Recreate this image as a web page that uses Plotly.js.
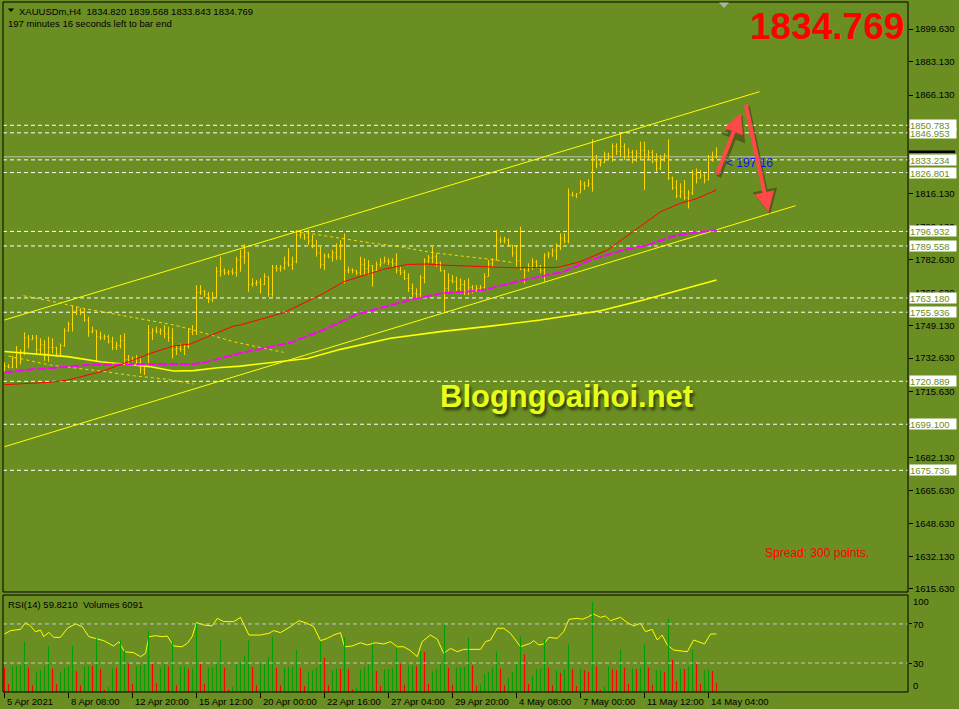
<!DOCTYPE html>
<html><head><meta charset="utf-8">
<script src="https://cdn.plot.ly/plotly-3.0.1.min.js"></script>
<style>html,body{margin:0;padding:0;background:#6B8E23;overflow:hidden}#chart{width:959px;height:709px}</style>
</head><body><div id="chart"></div>
<script>
// ---------- DATA (XAUUSDm, H4) ----------
const openP = [
1727.0,1728.5,1728.0,1732.5,1735.0,1736.0,1743.0,1742.0,1743.0,1737.0,
1739.5,1735.0,1738.0,1738.0,1735.0,1739.0,1746.5,1750.0,1756.5,1757.0,
1756.0,1752.0,1746.0,1746.5,1743.5,1743.0,1743.5,1741.0,1738.0,1739.0,
1741.5,1732.0,1731.5,1732.0,1730.5,1727.0,1728.5,1745.5,1746.5,1746.0,
1746.5,1745.0,1743.0,1737.0,1737.5,1737.0,1738.5,1746.0,1746.5,1766.0,
1766.5,1765.0,1762.5,1763.5,1776.5,1777.0,1776.0,1776.5,1776.0,1782.5,
1784.0,1786.0,1770.0,1770.5,1771.0,1770.0,1774.0,1765.0,1778.5,1778.0,
1778.5,1781.0,1780.0,1781.5,1795.0,1795.5,1794.0,1792.0,1790.0,1786.0,
1780.0,1784.5,1784.0,1786.0,1784.0,1790.0,1777.0,1777.5,1777.0,1776.0,
1780.0,1778.0,1779.5,1777.0,1780.0,1781.0,1782.0,1781.5,1780.5,1777.0,
1776.0,1773.0,1768.0,1765.5,1765.0,1773.5,1782.0,1783.5,1784.0,1781.0,
1777.0,1768.0,1772.0,1771.5,1768.0,1770.0,1767.0,1768.5,1767.0,1768.0,
1768.5,1774.0,1780.5,1782.5,1792.5,1792.0,1792.5,1790.0,1786.0,1782.0,
1777.5,1777.0,1779.0,1781.5,1779.5,1777.0,1785.0,1785.5,1787.0,1789.5,
1793.5,1792.0,1815.5,1815.0,1816.5,1821.0,1820.0,1821.0,1834.0,1831.0,
1832.0,1836.0,1835.0,1840.0,1837.5,1840.0,1835.0,1837.0,1833.0,1836.5,
1838.0,1836.0,1837.0,1832.5,1829.0,1834.0,1835.5,1824.0,1819.0,1815.0,
1817.0,1814.0,1816.5,1826.0,1824.0,1825.5,1823.0,1834.5,1834.820];
const highP = [
1730.5,1729.6,1733.7,1738.8,1737.1,1745.7,1744.4,1744.4,1744.4,1742.7,
1741.8,1743.5,1742.7,1738.4,1740.1,1747.8,1751.1,1759.2,1758.7,1757.9,
1757.9,1753.7,1748.6,1746.9,1746.1,1744.7,1744.4,1743.5,1741.0,1744.4,
1745.2,1734.2,1733.4,1734.2,1732.5,1729.1,1749.4,1747.8,1748.6,1747.8,
1749.4,1748.6,1747.8,1739.3,1740.1,1739.3,1747.8,1749.4,1769.7,1769.7,
1767.2,1766.2,1766.2,1779.0,1784.1,1778.2,1777.4,1778.2,1784.1,1787.5,
1790.5,1786.6,1773.1,1772.3,1773.1,1775.7,1774.0,1779.9,1779.9,1779.9,
1784.1,1788.4,1784.1,1797.6,1796.8,1795.9,1797.9,1795.1,1792.6,1789.2,
1785.8,1785.8,1787.5,1790.9,1792.6,1795.9,1779.0,1778.2,1777.4,1784.1,
1783.3,1782.4,1779.9,1781.6,1783.3,1784.1,1783.3,1783.3,1785.8,1779.0,
1777.4,1775.7,1770.6,1768.0,1774.8,1783.3,1784.9,1789.2,1785.8,1781.6,
1777.4,1775.7,1774.8,1774.0,1773.1,1772.3,1773.1,1769.7,1769.7,1769.7,
1775.7,1782.4,1783.3,1797.6,1794.2,1794.2,1793.4,1790.0,1790.0,1799.3,
1778.2,1780.8,1783.3,1782.4,1779.9,1785.8,1786.6,1788.4,1790.9,1795.9,
1795.9,1818.8,1817.1,1816.3,1823.0,1822.2,1823.4,1843.7,1835.7,1833.2,
1837.4,1836.9,1841.6,1841.6,1846.7,1841.6,1839.1,1838.2,1838.2,1842.5,
1842.5,1838.2,1838.2,1836.6,1835.7,1836.6,1843.7,1824.7,1823.0,1821.3,
1823.0,1817.9,1828.1,1828.9,1828.1,1826.4,1835.7,1837.4,1839.568];
const lowP = [
1725.8,1727.5,1727.5,1727.5,1729.5,1734.2,1737.6,1741.8,1735.1,1734.2,
1731.2,1730.8,1735.1,1733.4,1733.4,1738.4,1746.1,1746.1,1754.5,1754.5,
1751.1,1743.5,1745.2,1730.8,1741.8,1741.8,1740.1,1736.8,1736.8,1737.6,
1730.0,1729.1,1730.8,1729.1,1724.9,1724.1,1728.3,1741.8,1745.2,1744.4,
1742.7,1741.0,1732.5,1734.2,1735.9,1734.2,1737.6,1744.4,1744.4,1764.7,
1763.6,1760.6,1761.1,1763.2,1774.0,1774.8,1774.8,1774.8,1774.0,1776.5,
1780.5,1766.3,1768.9,1769.2,1765.5,1769.7,1763.8,1763.8,1776.5,1776.5,
1777.4,1779.0,1777.4,1780.8,1793.4,1792.6,1790.0,1788.4,1784.1,1778.2,
1777.4,1783.3,1781.6,1782.4,1782.4,1770.6,1775.7,1775.7,1774.8,1774.8,
1774.8,1774.8,1768.9,1776.5,1779.0,1780.8,1779.9,1779.0,1775.7,1774.8,
1772.3,1766.3,1763.8,1763.0,1763.0,1770.6,1780.8,1780.8,1779.0,1776.5,
1756.2,1766.3,1770.6,1766.3,1765.5,1764.7,1764.7,1765.5,1766.3,1766.3,
1767.5,1774.0,1779.0,1782.4,1790.9,1790.9,1789.2,1784.1,1779.0,1777.4,
1770.6,1776.5,1777.4,1778.2,1775.7,1771.4,1783.3,1784.1,1782.4,1787.5,
1790.9,1790.9,1814.6,1813.8,1816.3,1818.0,1819.6,1817.1,1829.0,1829.8,
1831.5,1833.2,1832.3,1835.7,1834.9,1833.2,1834.0,1831.5,1832.3,1833.2,
1818.0,1833.2,1831.5,1827.2,1828.1,1832.3,1823.0,1818.0,1813.8,1813.8,
1812.9,1808.6,1815.4,1821.3,1823.9,1821.3,1823.0,1832.3,1833.843];
const closeP = [
1728.5,1728.0,1732.5,1735.0,1736.0,1743.0,1742.0,1743.0,1737.0,1739.5,
1735.0,1738.0,1738.0,1735.0,1739.0,1746.5,1750.0,1756.5,1757.0,1756.0,
1752.0,1746.0,1746.5,1743.5,1743.0,1743.5,1741.0,1738.0,1739.0,1741.5,
1732.0,1731.5,1732.0,1730.5,1727.0,1728.5,1745.5,1746.5,1746.0,1746.5,
1745.0,1743.0,1737.0,1737.5,1737.0,1738.5,1746.0,1746.5,1766.0,1766.5,
1765.0,1762.5,1763.5,1776.5,1777.0,1776.0,1776.5,1776.0,1782.5,1784.0,
1786.0,1770.0,1770.5,1771.0,1770.0,1774.0,1765.0,1778.5,1778.0,1778.5,
1781.0,1780.0,1781.5,1795.0,1795.5,1794.0,1792.0,1790.0,1786.0,1780.0,
1784.5,1784.0,1786.0,1784.0,1790.0,1777.0,1777.5,1777.0,1776.0,1780.0,
1778.0,1779.5,1777.0,1780.0,1781.0,1782.0,1781.5,1780.5,1777.0,1776.0,
1773.0,1768.0,1765.5,1765.0,1773.5,1782.0,1783.5,1784.0,1781.0,1777.0,
1768.0,1772.0,1771.5,1768.0,1770.0,1767.0,1768.5,1767.0,1768.0,1768.5,
1774.0,1780.5,1782.5,1792.5,1792.0,1792.5,1790.0,1786.0,1782.0,1777.5,
1777.0,1779.0,1781.5,1779.5,1777.0,1785.0,1785.5,1787.0,1789.5,1793.5,
1792.0,1815.5,1815.0,1816.0,1821.0,1820.0,1821.0,1834.0,1831.0,1832.0,
1836.0,1835.0,1840.0,1837.5,1840.0,1835.0,1837.0,1833.0,1836.5,1838.0,
1836.0,1837.0,1832.5,1829.0,1834.0,1835.5,1824.0,1819.0,1815.0,1817.0,
1814.0,1816.5,1826.0,1824.0,1825.5,1823.0,1834.5,1834.820,1834.769];
const volumes = [
16700,5400,17600,18000,18300,34500,16700,4700,14200,14900,
17600,31100,16000,5400,13500,16500,17600,31600,14200,4700,
17600,18000,17800,36800,15800,1400,3600,16700,16500,35200,
28400,19400,5400,17600,18500,19200,41500,19600,5900,16200,
19400,17400,34700,4700,17400,17600,15800,16000,46900,19400,
5400,16700,16800,20500,35200,16700,1400,3600,19000,20300,
25000,35200,17100,4700,19000,20100,23900,37900,16500,4700,
16700,17100,17600,28900,16500,4100,14200,14900,16700,34500,
23200,4700,14900,16000,15800,37400,15600,1800,2900,15400,
17100,18700,33000,14400,4100,15600,15700,16700,30000,19000,
4700,18300,18400,17500,27800,27300,5400,14200,15600,19800,
46500,16500,4700,16700,16800,17100,37400,18300,4200,5200,
12200,13700,16700,27800,16000,4700,9900,13700,19800,37900,
25700,5400,11500,15600,16200,35700,16700,4700,14900,13100,
15600,32500,15600,4100,15600,14900,13700,61600,17600,1400,
3800,17600,15600,14900,29100,16700,5400,16200,15600,16700,
32500,16700,4700,14900,15000,13700,50100,22100,7400,16200,
15600,17600,28900,19000,5400,14900,15600,14400,6091];
const volumeUpDown =
 'rrggggrrgg'+'ggrrggggrr'+'ggrgrrggrg'+'grrggggrrg'+'grgrggrggr'+
 'rggggrrggg'+'ggrrggggrr'+'ggggrrgggg'+'rrggrgrrgg'+'gggrrggggr'+
 'rggrgrrggg'+'grrggggrrg'+'ggggrrgggg'+'rrggggrrgr'+'ggrrgrrgrr'+
 'ggrrgrrgrg'+'grrggrgrrg'+'rggrrggrr';
const rsiX = [0,1.5,4,5.25,6.5,7.75,9,9.8,11.1,12.3,14,15.7,17.75,19.4,21.1,23.2,24.8,27.3,28.6,30,
 32.3,34,35.25,36.1,37.75,39.4,40.7,42.3,44.4,45.7,46.9,48,49.8,51.9,53.2,54.8,57.3,59,61.1,64,
 66.1,67.3,69,71.5,73.6,75.7,77.3,79,80.7,82.3,84,85,86.9,89,90.7,92.75,94.8,96.5,98.2,99.8,
 101.5,103.2,104.4,106.5,108.2,109.8,111.5,113.2,114.8,117.3,119,120.25,121.5,123.2,124.8,126.5,129,131.5,132.3,133.6,
 134.8,136.1,138.2,139.8,141.1,143.2,144.4,145.7,147.2,149,150.25,151.5,154,155.7,157.3,159,160.25,161.9,163.2,164.4,
 165.7,167.3,169,170.7,172.3,174,175,176.5,178];
const rsiY = [59.7,63.2,64.5,71.4,68,62,63.8,57,61.4,56.3,56.3,65.6,70,67.3,57,54.3,52.9,47.4,51.9,41.6,
 40.6,36.5,39.9,57,58,57,57.7,47.4,46.7,50.2,57,71.4,69,68,75.8,72.4,72.4,76.8,58.7,58.7,
 60.4,63.2,61.1,67.3,73.4,70.7,67.3,52.9,55.3,58.7,61.1,46.7,47.4,50.8,48.5,50.8,49.5,51.9,46.7,46.7,
 42.6,36.5,51.9,58.7,54.3,39.9,45,41.6,44,44,44,51.9,53.6,65.6,65.6,60.4,46.7,50.2,52.9,48.5,
 49.5,56.3,55.3,62.1,74.8,75.8,74.8,76.8,80.3,76.8,78.2,73.4,76.8,71.4,68,70.7,62.1,64.5,53.6,58.7,
 48.5,43.3,42.6,41.6,53.6,50.8,49.5,59.7,59.82];
// moving averages (read points)
const maRedX = [0,11.5,15.75,24,32.25,36.5,42.25,46.5,50.75,57.25,59,61.5,69.8,79.8,84.75,94.75,100.75,105.75,109,119,127.25,138.25,144,150.75,157.25,164,169,173.25,178];
const maRedY = [1719.2,1720.4,1721.5,1725.7,1731.7,1735.1,1738.8,1739.8,1743.5,1748.9,1749.5,1751.0,1755.7,1765.5,1771.4,1777.7,1780.2,1780.4,1779.9,1779.1,1778.5,1778.7,1781.6,1787.5,1796.8,1806.9,1811.2,1813.7,1818.0];
const maMagX = [0,7.25,15.75,21.5,36.5,47.25,50.75,57.25,59,71.5,79.8,88.2,100.7,109,119,129.75,139.75,146.5,154.75,160.75,167.25,172.25,178];
const maMagY = [1725.3,1727.0,1728.3,1729.3,1729.5,1729.7,1730.8,1734.2,1735.2,1740.5,1747.0,1755.0,1761.8,1765.5,1766.9,1772.3,1776.5,1782.4,1787.5,1790.0,1794.6,1796.3,1797.6];
const maSlowX = [0,7.25,15.75,24,36.5,42.25,47.25,53.25,59,75.7,84,96.5,109,121.5,134,149,159.75,178];
const maSlowY = [1736.0,1734.7,1733.4,1730.8,1728.3,1726.1,1726.3,1727.8,1728.6,1732.5,1737.1,1742.7,1746.1,1748.9,1752.0,1756.7,1762.1,1772.3];
// drawn objects
const chanUpX = [0,188.75], chanUpY = [1751.99,1867.82];
const chanLoX = [0,197.75], chanLoY = [1687.71,1809.98];
const dash1X = [4.75,11.5,19.75,26.5,34.75,42.25,47.25,51.5,57.25,64,69.75];
const dash1Y = [1764.3,1761.6,1757.9,1755.4,1752.3,1749.5,1746.9,1744.4,1741.0,1738.0,1735.6];
const dash2X = [1,11.5,24,32.25,40.75,47.25];
const dash2Y = [1733.7,1729.1,1726.1,1723.7,1721.9,1719.5];
const dash3X = [74,84,92.25,99,105.75,112.25,121.5,127.25];
const dash3Y = [1796.6,1793.4,1790.9,1789.2,1786.6,1784.9,1782.8,1781.1];
const hLevels = [1675.736,1699.100,1720.889,1755.936,1763.180,1789.558,1796.932,1826.801,1833.234,1846.953,1850.783];
const bidPrice = 1834.769;
const priceTicks = [1899.630,1883.130,1866.130,1849.630,1833.130,1816.130,1799.130,1782.630,1765.630,1749.130,1732.630,1715.630,1699.130,1682.130,1665.630,1648.630,1632.130,1615.630];
// labels fully hidden behind price-line boxes in the reference are left blank
const priceTickText = ['1899.630','1883.130','1866.130','','','1816.130','1799.130','1782.630','1765.630','1749.130','1732.630','1715.630','','1682.130','1665.630','1648.630','1632.130','1615.630'];
const timeTickIdx = [0,16,32,48,64,80,96,112,128,144,160,176];
const timeTickText = ['5 Apr 2021','8 Apr 08:00','12 Apr 20:00','15 Apr 12:00','20 Apr 00:00','22 Apr 16:00','27 Apr 04:00','29 Apr 20:00','4 May 08:00','7 May 00:00','11 May 12:00','14 May 04:00'];
const rsiLevels = [70,30];
const rsiLabelVals = ['100','70','30','0'];
// arrows drawn on chart: [tailIdx, tailPrice, headIdx, headPrice]
const arrowUp = [178, 1825.1, 184.1, 1857.0];
const arrowDown = [185.25, 1862.1, 191, 1806.8];

// ---------- LAYOUT HELPERS ----------
const W=959,H=709,ML=3,MR=51,MT=2,MB=17;
const PW=W-ML-MR, PH=H-MT-MB;
const px=x=>(x-ML)/PW, py=y=>(H-MB-y)/PH;
const FONT='Liberation Sans, Arial, sans-serif';
const BG='#6B8E23';
const idx = highP.map((_,i)=>i);

const traces = [];
const ln = (x,y,color,width,dash,axis)=>({type:'scatter',mode:'lines',x:x,y:y,yaxis:axis||'y',
  line:{color:color,width:width,dash:dash||'solid'},hoverinfo:'skip'});
traces.push(ln(chanUpX,chanUpY,'#ffff00',1));
traces.push(ln(chanLoX,chanLoY,'#ffff00',1));
traces.push(ln(maSlowX,maSlowY,'#ffff00',1.6));
traces.push(ln(dash1X,dash1Y,'#ffd700',1,'3px,3px'));
traces.push(ln(dash2X,dash2Y,'#ffd700',1,'3px,3px'));
traces.push(ln(dash3X,dash3Y,'#ffd700',1,'3px,3px'));
traces.push({type:'ohlc',x:idx,open:openP,high:highP,low:lowP,close:closeP,
  increasing:{line:{color:'#ffd700',width:1}},decreasing:{line:{color:'#ffd700',width:1}},
  tickwidth:0.25,hoverinfo:'skip'});
traces.push(ln(maMagX,maMagY,'#ff00ff',2,'9px,2px'));
traces.push(ln(maRedX,maRedY,'#ff0000',1));
traces.push({type:'bar',x:idx,y:volumes,yaxis:'y3',width:0.3,hoverinfo:'skip',
  marker:{color:volumeUpDown.split('').map(c=>c==='g'?'#00a000':'#ff0000'),line:{width:0}}});
traces.push(ln(rsiX,rsiY,'#ffff00',1,'solid','y2'));

const shapes = [];
hLevels.forEach(v=>shapes.push({type:'line',xref:'paper',yref:'y',x0:0,x1:1,y0:v,y1:v,layer:'below',
  line:{color:'#ffffff',width:1,dash:'4px,3px'}}));
shapes.push({type:'line',xref:'paper',yref:'y',x0:0,x1:1,y0:bidPrice,y1:bidPrice,layer:'below',line:{color:'#c0c0c0',width:1}});
rsiLevels.forEach(v=>shapes.push({type:'line',xref:'paper',yref:'y2',x0:0,x1:1,y0:v,y1:v,
  line:{color:'#c8c8c8',width:1,dash:'4px,3px'}}));
shapes.push({type:'rect',xref:'paper',yref:'paper',x0:0,x1:1,y0:py(592),y1:py(2),line:{color:'#000',width:1}});
shapes.push({type:'rect',xref:'paper',yref:'paper',x0:0,x1:1,y0:py(692),y1:py(595),line:{color:'#000',width:1}});
shapes.push({type:'rect',xref:'paper',yref:'paper',x0:px(909),x1:px(955),y0:py(153),y1:py(150.5),fillcolor:'#000',line:{width:0}});
shapes.push({type:'path',xref:'paper',yref:'paper',fillcolor:'#b0b0b0',line:{width:0},
  path:`M${px(719)},${py(2.5)} L${px(729)},${py(2.5)} L${px(724)},${py(8)} Z`});
shapes.push({type:'path',xref:'paper',yref:'paper',fillcolor:'#000',line:{width:0},
  path:`M${px(8)},${py(8.5)} L${px(14)},${py(8.5)} L${px(11)},${py(12)} Z`});

const ann = [];
const txt=(x,y,text,size,color,xanchor,extra)=>Object.assign({xref:'paper',yref:'paper',x:px(x),y:py(y),text:text,
  showarrow:false,xanchor:xanchor||'left',yanchor:'middle',font:{family:FONT,size:size,color:color}},extra||{});
// price-line labels
hLevels.forEach(v=>ann.push({xref:'paper',yref:'y',x:px(909),y:v,text:v.toFixed(3),showarrow:false,
  xanchor:'left',yanchor:'middle',align:'left',bgcolor:'#ffffff',borderpad:0,width:46,height:10,
  font:{family:FONT,size:9.5,color:BG}}));
// time labels
timeTickIdx.forEach((t,k)=>ann.push({xref:'x',yref:'paper',x:t,y:py(701),text:timeTickText[k],showarrow:false,
  xanchor:'left',yanchor:'middle',xshift:0,font:{family:FONT,size:9.5,color:'#000'}}));
// RSI scale labels
[601,624,663,685].forEach((yy,k)=>ann.push(txt(911,yy,rsiLabelVals[k],9.5,'#000')));
ann.push(txt(17,11,'XAUUSDm,H4  1834.820 1839.568 1833.843 1834.769',9.5,'#000'));
ann.push(txt(6,24,'197 minutes 16 seconds left to bar end',9.5,'#000'));
ann.push(txt(6,604,'RSI(14) 59.8210  Volumes 6091',9.5,'#000'));
ann.push(txt(906,26,'<b>1834.769</b>',37,'#ff0000','right'));
ann.push(txt(763,553,'Spread: 300 points.',12,'#ff0000'));
ann.push(txt(566,396,'<b>Blogngoaihoi.net</b>',31,'#e8ff1a','center',{font:{family:FONT,size:31,color:'#e8ff1a',shadow:'2px 3px 3px #2e3a08'}}));
ann.push(txt(724,163,'< 197:16',12,'#1010ff'));
// arrows (shadow then arrow)
[arrowUp,arrowDown].forEach(a=>{
  ann.push({xref:'x',yref:'y',axref:'x',ayref:'y',x:a[2]+0.4,y:a[3]-1.2,ax:a[0]+0.4,ay:a[1]-1.2,text:'',showarrow:true,
    arrowhead:2,arrowsize:1,arrowwidth:5,arrowcolor:'rgba(50,40,10,0.45)',standoff:0,startstandoff:0});
  ann.push({xref:'x',yref:'y',axref:'x',ayref:'y',x:a[2],y:a[3],ax:a[0],ay:a[1],text:'',showarrow:true,
    arrowhead:2,arrowsize:1,arrowwidth:4,arrowcolor:'#ff4848',standoff:0,startstandoff:0});
});

const layout = {
  width:W,height:H,margin:{l:ML,r:MR,t:MT,b:MB,pad:0},
  paper_bgcolor:BG,plot_bgcolor:BG,showlegend:false,
  font:{family:FONT,size:9.5,color:'#000'},
  xaxis:{type:'linear',domain:[0,1],range:[-0.375,225.875],anchor:'y2',showgrid:false,zeroline:false,
    tickmode:'array',tickvals:timeTickIdx,ticks:'outside',ticklen:5,tickcolor:'#000',tickwidth:1,
    showticklabels:false,showline:false,rangeslider:{visible:false},fixedrange:true},
  yaxis:{domain:[py(592),py(2)],range:[1613.99,1913.33],side:'right',anchor:'x',showgrid:false,zeroline:false,
    tickmode:'array',tickvals:priceTicks,ticktext:priceTickText,ticks:'outside',ticklen:4,tickcolor:'#000',
    tickfont:{family:FONT,size:9.5,color:'#000'},showline:false,fixedrange:true},
  yaxis2:{domain:[0,py(595)],range:[0.3,99.7],side:'right',anchor:'x',showgrid:false,zeroline:false,
    tickmode:'array',tickvals:[100,70,30,0],ticks:'outside',ticklen:3,tickcolor:'#000',showticklabels:false,fixedrange:true},
  yaxis3:{domain:[0,py(595)],overlaying:'y2',range:[0,66300],visible:false,fixedrange:true},
  shapes:shapes,annotations:ann
};
Plotly.newPlot('chart',traces,layout,{staticPlot:true,displayModeBar:false});
</script></body></html>
